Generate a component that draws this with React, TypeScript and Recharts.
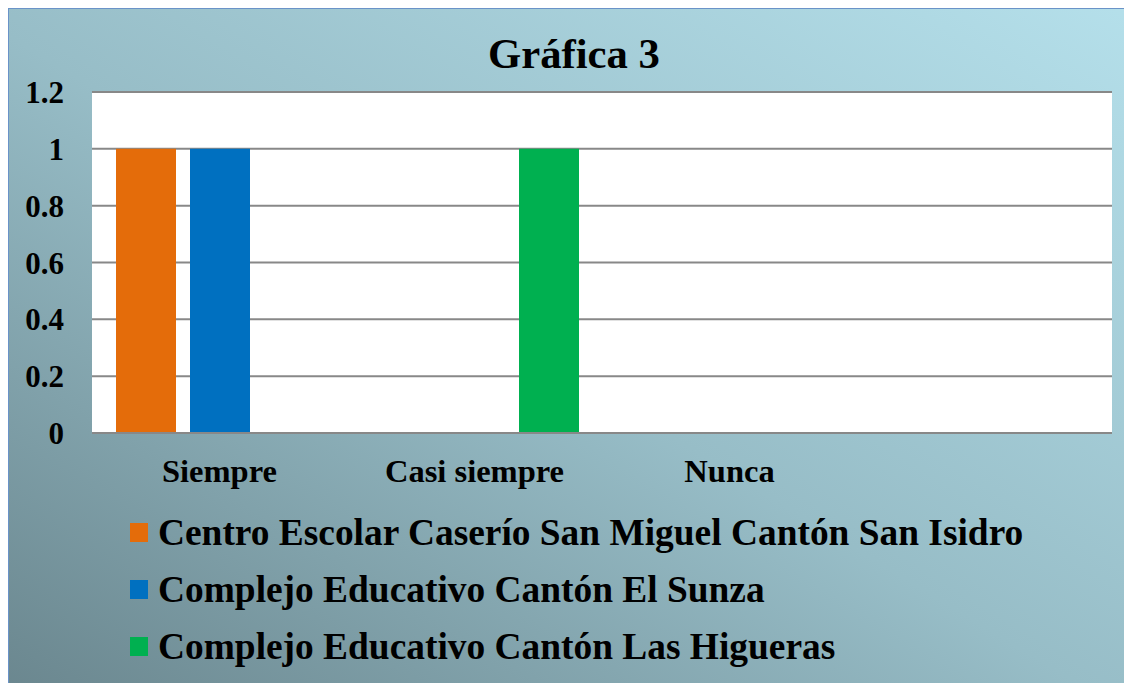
import React from "react";
import { BarChart, Bar, XAxis, YAxis, CartesianGrid, Legend } from "recharts";

const categories = ["Siempre", "Casi siempre", "Nunca", ""];
const centroEscolar = [1, 0, 0, null];
const complejoSunza = [1, 0, 0, null];
const complejoHigueras = [0, 1, 0, null];
const yTicks = [0, 0.2, 0.4, 0.6, 0.8, 1, 1.2];

const seriesNames = [
  "Centro Escolar Caserío San Miguel Cantón San Isidro",
  "Complejo Educativo Cantón El Sunza",
  "Complejo Educativo Cantón Las Higueras",
];
const seriesColors = ["#E46C0A", "#0070C0", "#00B050"];
const seriesKeys = ["a", "b", "c"];

const data = categories.map((c, i) => ({
  name: c,
  a: centroEscolar[i],
  b: complejoSunza[i],
  c: complejoHigueras[i],
}));

const FONT = '"Liberation Serif", "Times New Roman", serif';

const LegendContent = () => (
  <div style={{ fontFamily: FONT, fontWeight: "bold", fontSize: 37.4, color: "#000" }}>
    {seriesNames.map((n, i) => (
      <div key={n} style={{ height: 57, lineHeight: "57px", display: "flex", alignItems: "center", whiteSpace: "nowrap" }}>
        <span style={{ display: "inline-block", width: 18, height: 19, background: seriesColors[i], marginRight: 10 }} />
        <span>{n}</span>
      </div>
    ))}
  </div>
);

export default function App() {
  return (
    <div
      style={{
        position: "relative",
        width: 1140,
        height: 690,
        overflow: "hidden",
        background: "linear-gradient(to top right, #6a868e 0%, #97bdc7 48%, #b5e0eb 100%)",
        boxShadow: "inset 1px 1px 0 #6a93c8",
        fontFamily: FONT,
      }}
    >
      <style>{`html,body{overflow:hidden;}`}</style>
      <div
        style={{
          position: "absolute",
          left: 4,
          top: 25,
          width: 1124,
          textAlign: "center",
          fontSize: 42.7,
          lineHeight: "42px",
          fontWeight: "bold",
          color: "#000",
        }}
      >
        Gráfica 3
      </div>
      <BarChart
        width={1124}
        height={675}
        data={data}
        margin={{ top: 84, right: 20, left: 0, bottom: 0 }}
        barSize={60}
        barGap={14}
      >
        <CartesianGrid vertical={false} stroke="#888888" strokeWidth={2} fill="#ffffff" fillOpacity={1} />
        <XAxis
          dataKey="name"
          height={250}
          tickLine={false}
          tickSize={0}
          tickMargin={26}
          axisLine={{ stroke: "#888888", strokeWidth: 2 }}
          tick={{ fill: "#000", fontSize: 32.5, fontWeight: "bold", fontFamily: FONT }}
          interval={0}
        />
        <YAxis
          width={84}
          domain={[0, 1.2]}
          ticks={yTicks}
          axisLine={false}
          tickLine={false}
          tickSize={0}
          tickMargin={28}
          tick={{ fill: "#000", fontSize: 31, fontWeight: "bold", fontFamily: FONT }}
        />
        <Legend
          layout="vertical"
          verticalAlign="middle"
          align="center"
          content={<LegendContent />}
          wrapperStyle={{ left: 122, top: 496, width: 1000, height: 180 }}
        />
        {seriesKeys.map((k, i) => (
          <Bar key={k} dataKey={k} name={seriesNames[i]} fill={seriesColors[i]} isAnimationActive={false} />
        ))}
      </BarChart>
    </div>
  );
}
